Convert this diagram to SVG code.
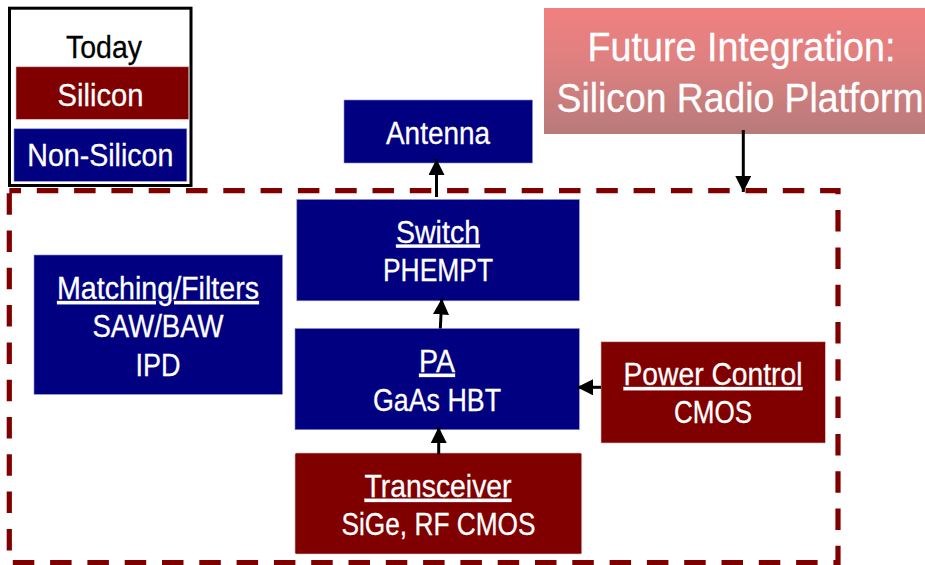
<svg xmlns="http://www.w3.org/2000/svg" width="925" height="565" viewBox="0 0 925 565">
<style>
text{font-family:"Liberation Sans",Arial,sans-serif;text-anchor:middle;fill:#fff;font-size:32px;stroke:#fff;stroke-width:.3}
.r{fill:#800000;stroke:#d8c0c8;stroke-width:.6}
.b{fill:#000080;stroke:#8c8cd0;stroke-width:.6}
.c{stroke:#000;stroke-width:3;fill:none;marker-end:url(#a)}
.f{font-size:41px}
.k{fill:#000;stroke:#000}
</style>
<defs>
<linearGradient id="g" x1="0" y1="0" x2="0" y2="1"><stop offset="0" stop-color="#f08080"/><stop offset=".4" stop-color="#e08080"/><stop offset="1" stop-color="#b87a7a"/></linearGradient>
<marker id="a" markerUnits="userSpaceOnUse" markerWidth="16" markerHeight="16" refX="16" refY="8" orient="auto"><path d="M0 0L16 8L0 16Z" fill="#000"/></marker>
</defs>
<g id="legend">
<rect x="9.500" y="8.200" width="181.500" height="177.300" fill="#fff" stroke="#000" stroke-width="3"/>
<text class="k" x="104" y="58" textLength="76" lengthAdjust="spacingAndGlyphs">Today</text>
<rect class="r" x="16" y="66.800" width="172.800" height="52.500"/>
<text x="100.500" y="106" textLength="86" lengthAdjust="spacingAndGlyphs">Silicon</text>
<rect class="b" x="14" y="128.800" width="172.800" height="52.500"/>
<text x="100.300" y="166" textLength="146" lengthAdjust="spacingAndGlyphs">Non-Silicon</text>
</g>
<g id="future">
<rect x="544" y="8" width="381" height="126" fill="url(#g)"/>
<text class="f" x="741.500" y="61" textLength="308" lengthAdjust="spacingAndGlyphs">Future Integration:</text>
<text class="f" transform="translate(740 112) scale(.91 1)">Silicon Radio Platform</text>
</g>
<g id="boundary"><rect x="9.300" y="190.700" width="828.700" height="372" fill="none" stroke="#800000" stroke-width="5.200" stroke-dasharray="21.500 15.800" stroke-dashoffset="9.800"/></g>
<g id="antenna"><rect class="b" x="344" y="100" width="188.500" height="63"/>
<text x="438" y="143.500" textLength="104" lengthAdjust="spacingAndGlyphs">Antenna</text></g>
<g id="switch"><rect class="b" x="296.800" y="199.500" width="282.500" height="101.300"/>
<text x="438" y="242.500" text-decoration="underline" textLength="84" lengthAdjust="spacingAndGlyphs">Switch</text>
<text x="438" y="280.800" textLength="110" lengthAdjust="spacingAndGlyphs">PHEMPT</text></g>
<g id="matching"><rect class="b" x="34" y="255" width="248.500" height="139.300"/>
<text x="158" y="299" text-decoration="underline" textLength="202" lengthAdjust="spacingAndGlyphs">Matching/Filters</text>
<text x="158" y="337" textLength="131" lengthAdjust="spacingAndGlyphs">SAW/BAW</text>
<text x="158" y="376" textLength="45" lengthAdjust="spacingAndGlyphs">IPD</text></g>
<g id="pa"><rect class="b" x="295" y="328.500" width="284.300" height="101.200"/>
<text x="437" y="371.800" text-decoration="underline" textLength="36" lengthAdjust="spacingAndGlyphs">PA</text>
<text x="437" y="410.500" textLength="128" lengthAdjust="spacingAndGlyphs">GaAs HBT</text></g>
<g id="power"><rect class="r" x="601" y="341.800" width="224.300" height="101.200"/>
<text x="713" y="385" text-decoration="underline" textLength="179" lengthAdjust="spacingAndGlyphs">Power Control</text>
<text x="713" y="423" textLength="78" lengthAdjust="spacingAndGlyphs">CMOS</text></g>
<g id="transceiver"><rect class="r" x="295" y="453" width="286.700" height="101" rx="1.500"/>
<text x="438" y="496.800" text-decoration="underline" textLength="147" lengthAdjust="spacingAndGlyphs">Transceiver</text>
<text x="438.500" y="535" textLength="194" lengthAdjust="spacingAndGlyphs">SiGe, RF CMOS</text></g>
<g id="connectors">
<path class="c" d="M743.300 130V192"/>
<path class="c" d="M436.500 197V159"/>
<path class="c" d="M440.300 328.500L441.800 298.500"/>
<path class="c" d="M438.700 454.500V427"/>
<path class="c" d="M601 387.300H577"/>
</g>
</svg>
